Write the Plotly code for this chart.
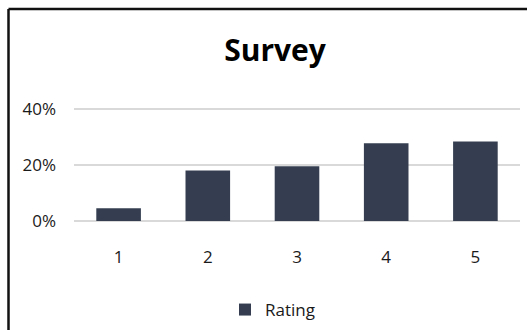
import plotly.graph_objects as go

# Survey results: share of respondents per rating
ratings = ["1", "2", "3", "4", "5"]
shares = [0.045, 0.18, 0.195, 0.277, 0.283]
y_ticks = [0, 0.2, 0.4]
y_tick_labels = ["0%", "20%", "40%"]

W, H = 531, 331
L, R, T, B = 74, 11, 103, 110
FONT = "Open Sans, Noto Sans, sans-serif"
BAR = "#343e50"
TXT = "#1a1a1a"
FRAME = dict(color="#111111", width=2.5)

fig = go.Figure(
    go.Bar(x=ratings, y=shares, name="Rating", marker=dict(color=BAR, line=dict(width=0)))
)

# outer chart frame: only its left and top edges fall inside the page
pw, ph = W - L - R, H - T - B
fx = (8.5 - L) / pw
fy = (H - B - 9.0) / ph
fig.add_shape(type="line", xref="paper", yref="paper", line=FRAME,
              x0=fx, x1=fx, y0=-(B - 1) / ph, y1=fy)
fig.add_shape(type="line", xref="paper", yref="paper", line=FRAME,
              x0=fx, x1=(W - 4 - L) / pw, y0=fy, y1=fy)

fig.update_layout(
    width=W, height=H,
    margin=dict(l=L, r=R, t=T, b=B, autoexpand=False),
    paper_bgcolor="white", plot_bgcolor="white",
    bargap=0.5,
    showlegend=True,
    title=dict(
        text="<b>Survey</b>", x=275 / W, xref="container", xanchor="center",
        y=1 - 50 / H, yref="container", yanchor="middle",
        font=dict(family=FONT, size=30, color="#000000"),
    ),
    xaxis=dict(
        showgrid=False, showline=False, zeroline=False, ticks="",
        ticklabelstandoff=24, automargin=False,
        tickfont=dict(family=FONT, size=17, color=TXT),
    ),
    yaxis=dict(
        range=[0, 0.42], tickvals=y_ticks, ticktext=y_tick_labels,
        showgrid=True, gridcolor="#d9d9d9", gridwidth=1.5,
        zeroline=True, zerolinecolor="#d9d9d9", zerolinewidth=1.5,
        showline=False, ticks="", ticklabelstandoff=17, automargin=False,
        tickfont=dict(family=FONT, size=17, color=TXT),
    ),
    legend=dict(
        orientation="h", x=225 / W, xref="container", xanchor="left",
        y=1 - 310 / H, yref="container", yanchor="middle",
        font=dict(family=FONT, size=17, color=TXT),
        bgcolor="rgba(0,0,0,0)", itemwidth=30,
    ),
)

fig.write_html("out.html")
